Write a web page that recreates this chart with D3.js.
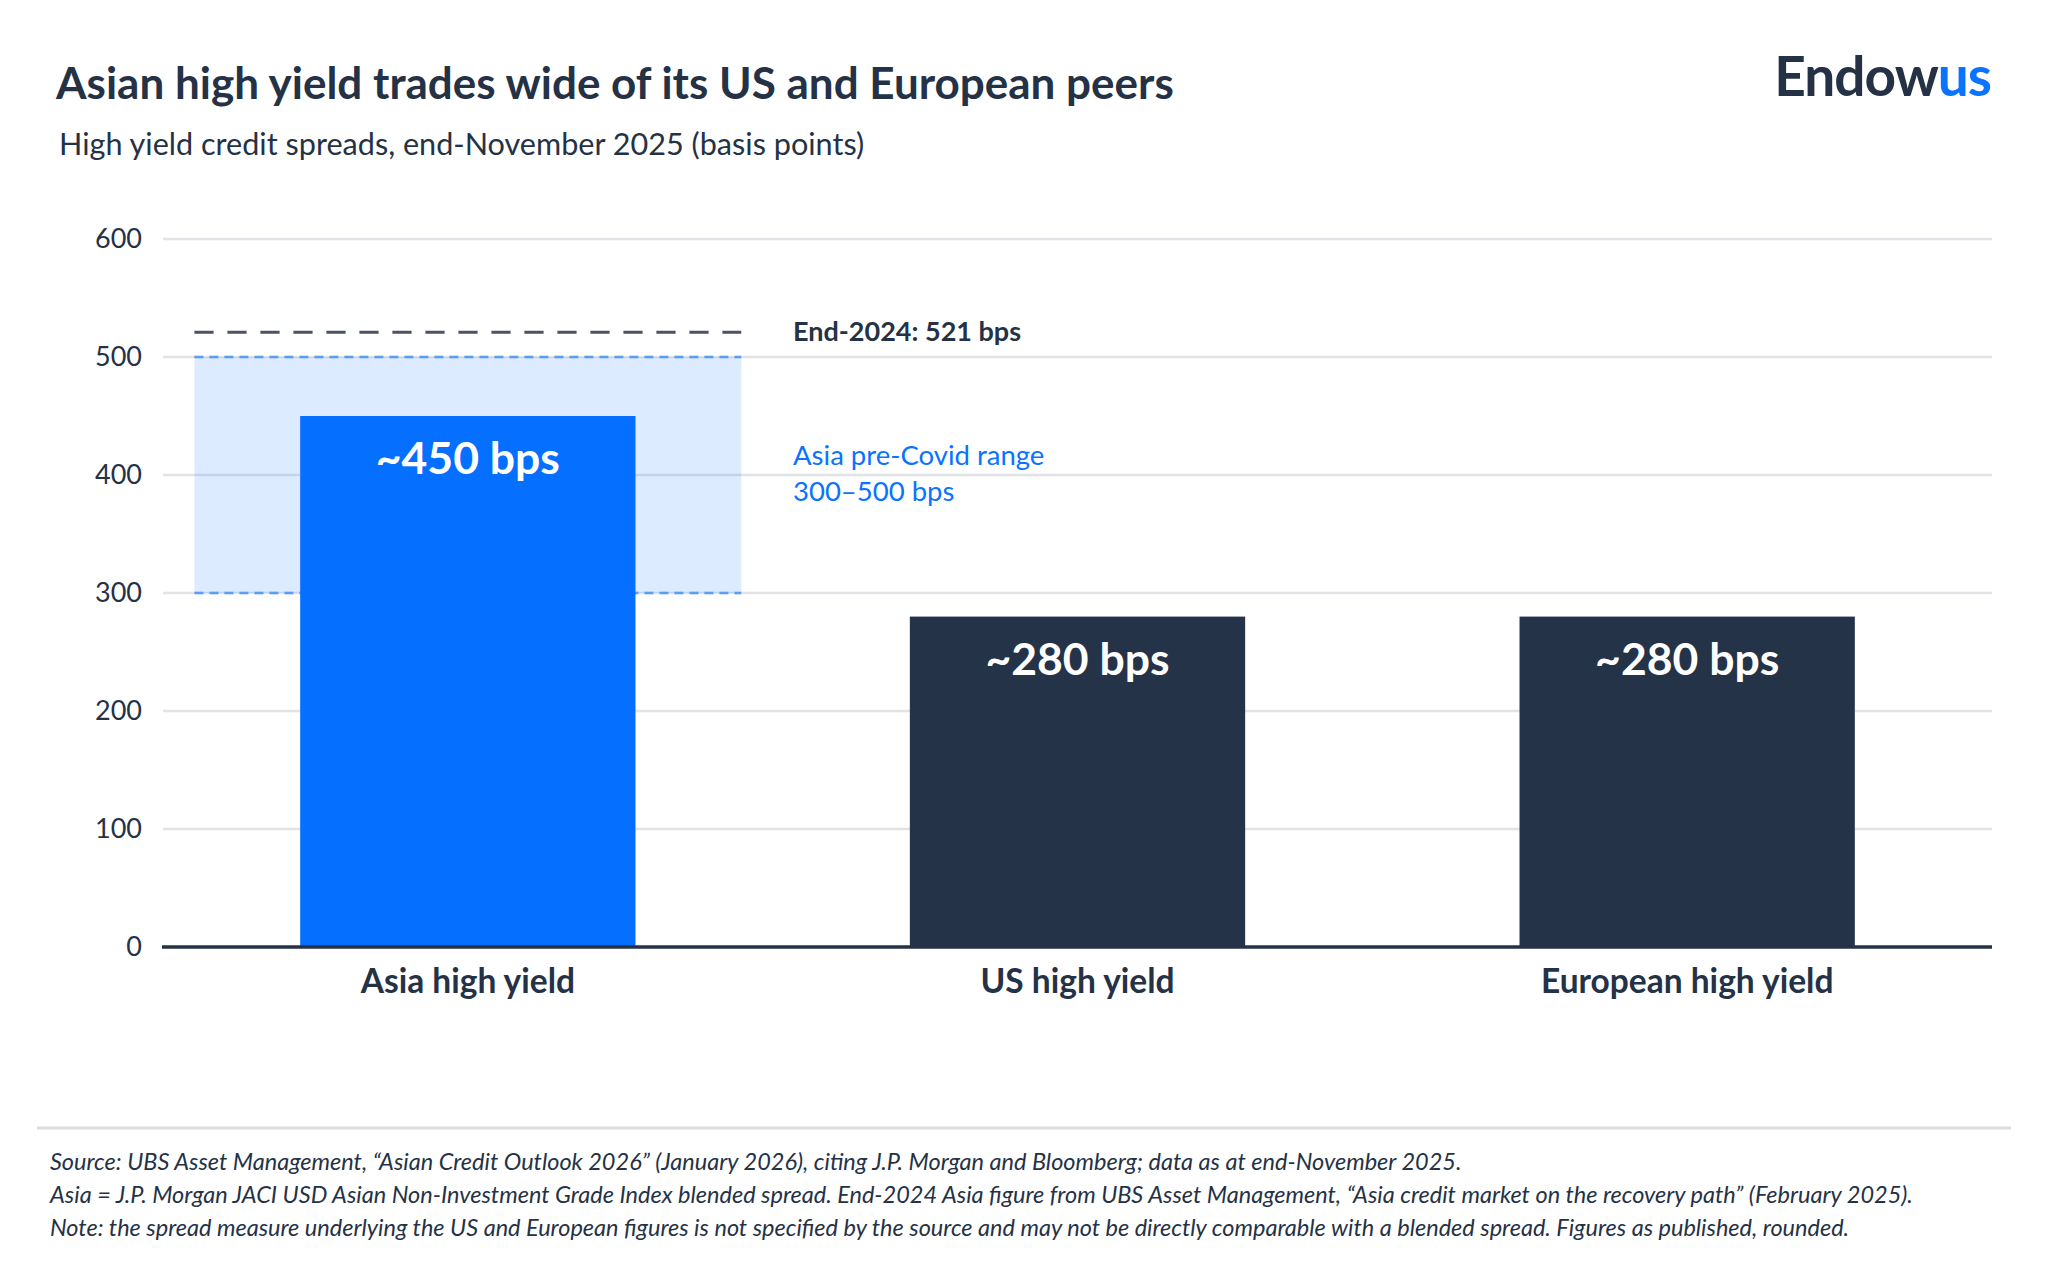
<!DOCTYPE html>
<html><head><meta charset="utf-8">
<script src="https://cdn.jsdelivr.net/npm/d3@7"></script>
<style>
html,body{margin:0;padding:0;background:#fff;}
svg{display:block;font-family:Lato,"Noto Sans",sans-serif;}
</style></head>
<body>
<svg id="chart" width="2048" height="1270"></svg>
<script>
// ---- data ----
const categories = ["Asia high yield", "US high yield", "European high yield"];
const spreads = [450, 280, 280];
const barLabels = ["~450 bps", "~280 bps", "~280 bps"];
const yTicks = [0, 100, 200, 300, 400, 500, 600];
const preCovidRange = [300, 500];
const end2024 = 521;
const footnotes = [
  "Source: UBS Asset Management, \u201cAsian Credit Outlook 2026\u201d (January 2026), citing J.P. Morgan and Bloomberg; data as at end-November 2025.",
  "Asia = J.P. Morgan JACI USD Asian Non-Investment Grade Index blended spread. End-2024 Asia figure from UBS Asset Management, \u201cAsia credit market on the recovery path\u201d (February 2025).",
  "Note: the spread measure underlying the US and European figures is not specified by the source and may not be directly comparable with a blended spread. Figures as published, rounded."
];

const dark = "#253246", blue = "#0570ff";
const svg = d3.select("#chart");

// titles
svg.append("text").attr("x", 56).attr("y", 99).attr("fill", dark)
  .attr("font-size", 44).attr("font-weight", 700)
  .text("Asian high yield trades wide of its US and European peers");
svg.append("text").attr("x", 59).attr("y", 155).attr("fill", dark)
  .attr("font-size", 30.6)
  .text("High yield credit spreads, end-November 2025 (basis points)");

// logo
const logo = svg.append("text").attr("x", 1991).attr("y", 96).attr("text-anchor", "end")
  .attr("font-size", 55).attr("font-weight", 700).attr("letter-spacing", -1);
logo.append("tspan").attr("fill", dark).text("Endow");
logo.append("tspan").attr("fill", "#0a73ff").text("us");

// scales
const left = 163, right = 1992;
const x = d3.scaleBand().domain(categories).range([left, right]).paddingInner(0.45).paddingOuter(0.225);
const y = d3.scaleLinear().domain([0, 600]).range([947, 239]);

// grid
svg.append("g").selectAll("line").data(yTicks.filter(d => d > 0)).join("line")
  .attr("x1", left).attr("x2", right)
  .attr("y1", d => y(d)).attr("y2", d => y(d))
  .attr("stroke", "#e1e3e8").attr("stroke-width", 2.5);

// y tick labels via axis
const yAxis = svg.append("g").attr("transform", `translate(${left},0)`)
  .call(d3.axisLeft(y).tickValues(yTicks).tickSize(0).tickPadding(21));
yAxis.select(".domain").remove();
yAxis.selectAll("text").attr("font-family", "Lato").attr("font-size", 27).attr("fill", dark);

// pre-covid band
const asiaC = x(categories[0]) + x.bandwidth() / 2;
const bandHalf = x.step() * 0.4485;
svg.append("rect")
  .attr("x", asiaC - bandHalf).attr("width", bandHalf * 2)
  .attr("y", y(preCovidRange[1])).attr("height", y(preCovidRange[0]) - y(preCovidRange[1]))
  .attr("fill", "#0a73ff").attr("fill-opacity", 0.14);
svg.append("g").selectAll("line").data(preCovidRange).join("line")
  .attr("x1", asiaC - bandHalf).attr("x2", asiaC + bandHalf)
  .attr("y1", d => y(d)).attr("y2", d => y(d))
  .attr("stroke", "#5a9df7").attr("stroke-width", 2.5).attr("stroke-dasharray", "9,6");

// end-2024 line
svg.append("line")
  .attr("x1", asiaC - bandHalf).attr("x2", asiaC + bandHalf)
  .attr("y1", y(end2024)).attr("y2", y(end2024))
  .attr("stroke", "#4b5466").attr("stroke-width", 3).attr("stroke-dasharray", "19.2,13.8");

// bars
svg.append("g").selectAll("rect").data(categories).join("rect")
  .attr("x", d => x(d)).attr("width", x.bandwidth())
  .attr("y", (d, i) => y(spreads[i])).attr("height", (d, i) => y(0) - y(spreads[i]))
  .attr("fill", (d, i) => i === 0 ? blue : "#253349");

svg.append("g").selectAll("text").data(categories).join("text")
  .attr("x", d => x(d) + x.bandwidth() / 2)
  .attr("y", (d, i) => y(spreads[i]) + 58)
  .attr("text-anchor", "middle").attr("fill", "#fff")
  .attr("font-size", 44.5).attr("font-weight", 700)
  .text((d, i) => barLabels[i]);

// x axis
const xAxis = svg.append("g").attr("transform", `translate(0,${y(0)})`)
  .call(d3.axisBottom(x).tickSize(0));
xAxis.select(".domain").attr("stroke", dark).attr("stroke-width", 3.5)
  .attr("d", `M${left - 1},0H${right}`);
xAxis.selectAll("text").attr("font-family", "Lato").attr("font-size", 33.5)
  .attr("font-weight", 700).attr("fill", dark).attr("dy", null).attr("y", 46);

// annotations
svg.append("text").attr("x", 793).attr("y", 341).attr("fill", dark)
  .attr("font-size", 27).attr("font-weight", 700).text("End-2024: " + end2024 + " bps");
svg.append("text").attr("x", 793).attr("y", 465).attr("fill", "#0a73ff")
  .attr("font-size", 27.5).text("Asia pre-Covid range");
svg.append("text").attr("x", 793).attr("y", 501).attr("fill", "#0a73ff")
  .attr("font-size", 27.5).text(preCovidRange[0] + "\u2013" + preCovidRange[1] + " bps");

// footer
svg.append("line").attr("x1", 37).attr("x2", 2011).attr("y1", 1128).attr("y2", 1128)
  .attr("stroke", "#dcdcdc").attr("stroke-width", 3);
svg.append("g").selectAll("text").data(footnotes).join("text")
  .attr("x", 50).attr("y", (d, i) => 1170 + i * 33)
  .attr("fill", dark).attr("font-size", 23.5).attr("font-style", "italic")
  .text(d => d);
</script>
</body></html>
